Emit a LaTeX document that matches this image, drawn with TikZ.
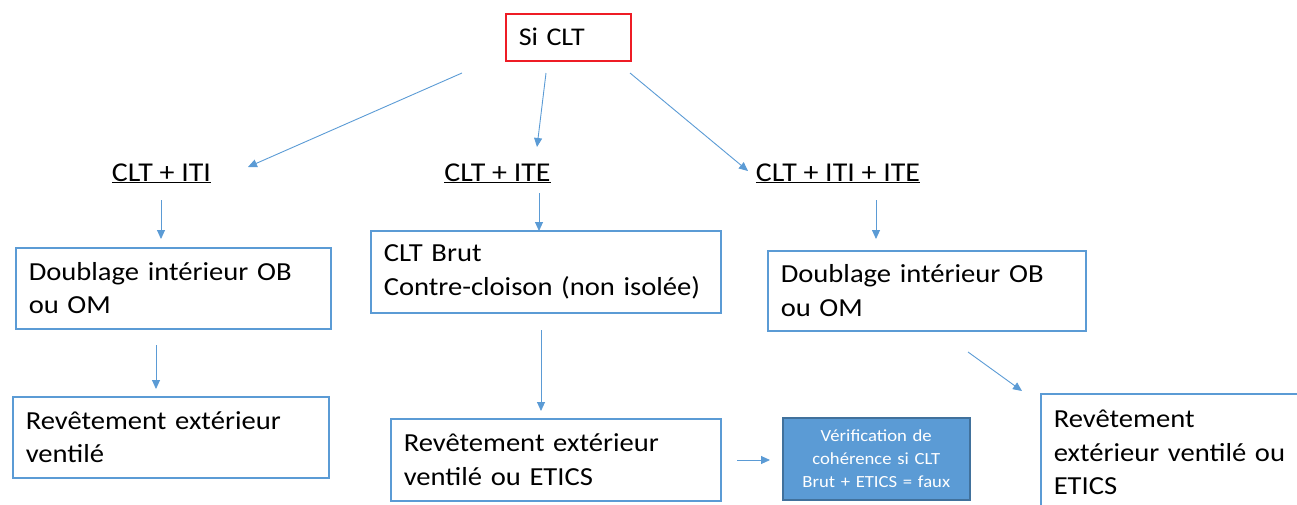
\documentclass[tikz,border=0pt]{standalone}
\usepackage{fontspec}
\setmainfont{Carlito}[FakeStretch=1.1]
\usetikzlibrary{arrows.meta}
\definecolor{lineblue}{HTML}{5B9BD5}
\definecolor{arrowblue}{HTML}{5B9BD5}
\definecolor{darkblue}{HTML}{41719C}
\definecolor{boxred}{HTML}{EE1C25}
\tikzset{
  flowbox/.style={draw=lineblue, line width=1.5pt, anchor=north west, align=left, inner xsep=13pt, inner ysep=0pt, font=\fontsize{26}{33.5}\selectfont},
  heading/.style={anchor=base, inner sep=0pt, font=\fontsize{27.2}{34}\selectfont},
  conn/.style={draw=arrowblue, line width=0.9pt, -{Triangle[length=9pt,width=8pt]}},
}
\begin{document}
\begin{tikzpicture}[x=1pt,y=-1pt]
\useasboundingbox (0,0) rectangle (1297,504);
\clip (0,0) rectangle (1297,504);
% top
\node[draw=boxred, line width=1.5pt, anchor=north west, minimum width=125pt, minimum height=47pt, text width=99pt, align=left, inner xsep=13pt, inner ysep=0pt, font=\fontsize{25.5}{32}\selectfont] (si) at (505,13) {Si CLT};
% headings
\node[heading] (h1) at (161.5,181) {\underline{CLT + ITI}};
\node[heading] (h2) at (497.5,181) {\underline{CLT + ITE}};
\node[heading] (h3) at (838,181) {\underline{CLT + ITI + ITE}};
% boxes
\node[flowbox, minimum width=315pt, minimum height=81pt, text width=289pt] (b1) at (15,247) {Doublage intérieur OB\\ou OM};
\node[flowbox, minimum width=350pt, minimum height=82pt, text width=324pt] (b2) at (370,230) {CLT Brut\\Contre-cloison (non isolée)};
\node[flowbox, minimum width=318pt, minimum height=80pt, text width=292pt] (b3) at (767,250) {Doublage intérieur OB\\ou OM};
\node[flowbox, minimum width=316pt, minimum height=81pt, text width=290pt] (b4) at (12,396) {Revêtement extérieur\\ventilé};
\node[flowbox, minimum width=330pt, minimum height=82pt, text width=304pt] (b5) at (390,418) {Revêtement extérieur\\ventilé ou ETICS};
\node[draw=darkblue, fill=lineblue, line width=1.5pt, anchor=north west, minimum width=187pt, minimum height=82pt, text width=185pt, align=center, inner sep=0pt, text=white, font=\fontsize{17}{23}\selectfont] (b7) at (782,417) {Vérification de\\cohérence si CLT\\Brut + ETICS = faux};
\node[flowbox, minimum width=290pt, minimum height=118pt, text width=264pt, inner ysep=7pt] (b6) at (1040,393) {Revêtement\\extérieur ventilé ou\\ETICS};
% connector end points
\coordinate (s1) at (462,73); \coordinate (e1) at (248,167);
\coordinate (s2) at (546,73); \coordinate (e2) at (537,147);
\coordinate (s3) at (630,73); \coordinate (e3) at (748,171);
\coordinate (s4) at (161,200); \coordinate (e4) at (161,239);
\coordinate (s5) at (539,193); \coordinate (e5) at (539,231);
\coordinate (s6) at (876,200); \coordinate (e6) at (876,239);
\coordinate (s7) at (156,345); \coordinate (e7) at (156,389);
\coordinate (s8) at (541,330); \coordinate (e8) at (541,411);
\coordinate (s9) at (968,352); \coordinate (e9) at (1022,391);
\coordinate (s10) at (737,460); \coordinate (e10) at (770,460);
\draw[conn] (s1) -- (e1);
\draw[conn] (s2) -- (e2);
\draw[conn] (s3) -- (e3);
\draw[conn] (s4) -- (e4);
\draw[conn] (s5) -- (e5);
\draw[conn] (s6) -- (e6);
\draw[conn] (s7) -- (e7);
\draw[conn] (s8) -- (e8);
\draw[conn] (s9) -- (e9);
\draw[conn] (s10) -- (e10);
\end{tikzpicture}
\end{document}
